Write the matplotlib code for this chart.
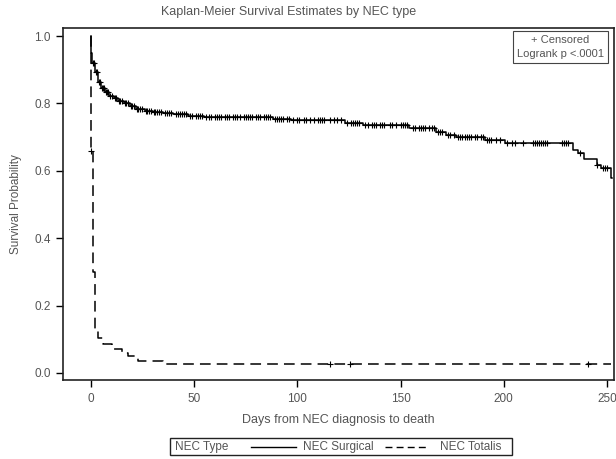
import numpy as np
import matplotlib
matplotlib.use('Agg')
import matplotlib.pyplot as plt
from matplotlib.lines import Line2D
from matplotlib.patches import Rectangle

plt.rcParams['font.family'] = ['Liberation Sans', 'DejaVu Sans']

# step curve: time of each event and survival after it
surg_t = [0, 0.2, 0.5, 2, 3.5, 5, 7, 9, 11, 13, 16, 19, 22, 26, 30, 35, 40, 47, 55,
          88, 97, 123, 132, 154, 167, 172, 177, 191, 200.5, 233.5, 236, 239, 245, 247, 252]
surg_s = [1.0, 0.95, 0.92, 0.893, 0.865, 0.845, 0.833, 0.823, 0.815, 0.808, 0.80, 0.792,
          0.785, 0.779, 0.775, 0.771, 0.768, 0.764, 0.760, 0.755, 0.750, 0.742, 0.736,
          0.727, 0.715, 0.706, 0.700, 0.691, 0.682, 0.662, 0.653, 0.635, 0.617, 0.608, 0.58]
surg_cens = [1, 1.5, 2.5, 3, 4, 4.5, 5.5, 6, 6.5, 7.5, 8, 8.5, 9.5, 10, 11.5, 12, 13.5, 14,
             15, 16.5, 17, 18, 19.5, 20, 21, 22.5, 23, 24, 25, 26.5, 27, 28, 29, 30.5, 31,
             32, 33, 34, 36, 37, 38, 39, 41, 42, 43, 44, 45, 46, 48, 49, 51, 52, 53, 54, 56,
             57, 58, 60, 61, 62, 63, 65, 66, 67, 69, 70, 71, 72, 74, 75, 76, 77, 78, 80, 81,
             82, 84, 85, 86, 87, 89, 90, 91, 92, 93, 95, 96, 98, 100, 101, 103, 104, 106,
             108, 110, 111, 112, 113, 116, 118, 119, 121, 124, 126, 127, 128, 129, 130, 133,
             134, 136, 137, 138, 140, 141, 142, 145, 146, 148, 150, 151, 152, 153, 156, 157,
             159, 160, 161, 162, 164, 165, 166, 168, 169, 170, 173, 174, 176, 178, 179, 180,
             181, 182, 183, 184, 186, 187, 189, 190, 192, 193, 194, 196, 198, 201.4, 203.8,
             205.4, 209.4, 214, 215, 216, 217, 218, 219, 220, 221, 228, 229, 230, 231, 237,
             245, 248, 249, 250]

tot_t = [0, 0.01, 1, 2, 3.5, 6, 10, 15, 18, 23, 35]
tot_s = [1.0, 0.66, 0.30, 0.128, 0.105, 0.085, 0.07, 0.06, 0.05, 0.035, 0.026]
tot_end = 252
tot_cens = [0.01, 116, 125.5, 241]

xticks = [0, 50, 100, 150, 200, 250]
yticks = [0.0, 0.2, 0.4, 0.6, 0.8, 1.0]

txt = '#555555'


def surv_at(t, s, x):
    idx = np.searchsorted(t, x, side='right') - 1
    return np.asarray(s)[idx]


fig = plt.figure(figsize=(6.16, 4.59), dpi=100)
ax = fig.add_axes([63 / 616, 1 - 380 / 459, 551 / 616, 352 / 459])

ax.step(surg_t + [surg_t[-1] + 0.5], surg_s + [surg_s[-1]], where='post', color='black', lw=1.1)
ax.step(tot_t + [tot_end], tot_s + [tot_s[-1]], where='post', color='black', lw=1.1,
        linestyle=(0, (7, 4)))

ax.plot(surg_cens, surv_at(surg_t, surg_s, surg_cens), '+', color='black', ms=5, mew=0.8)
ax.plot(tot_cens, surv_at(tot_t, tot_s, tot_cens), '+', color='black', ms=5, mew=0.8)

ax.set_xlim(-13.5, 253.4)
ax.set_ylim(-0.021, 1.024)
ax.set_xticks(xticks)
ax.set_xticklabels([str(v) for v in xticks])
ax.set_yticks(yticks)
ax.set_yticklabels(['%.1f' % v for v in yticks])
ax.tick_params(direction='out', length=5, width=1, colors='black', labelcolor=txt,
               labelsize=8.5, pad=4)
for sp in ax.spines.values():
    sp.set_color('#222222')
    sp.set_linewidth(1.2)

ax.set_xlabel('Days from NEC diagnosis to death', color=txt, fontsize=9, labelpad=7)
ax.set_ylabel('Survival Probability', color=txt, fontsize=8.5, labelpad=9)
fig.text(0.468, 1 - 12 / 459, 'Kaplan-Meier Survival Estimates by NEC type', color=txt,
         fontsize=9, ha='center', va='center')

ax.text(0.982, 0.98, '+ Censored\nLogrank p <.0001', transform=ax.transAxes, ha='right',
        va='top', multialignment='center', fontsize=8, color=txt, linespacing=1.45,
        bbox=dict(boxstyle='square,pad=0.35', fc='white', ec='#444444', lw=0.8))

# bottom legend box
fy = 1 - 447 / 459
fig.patches.append(Rectangle((170 / 616, 1 - 455 / 459), 342 / 616, 17 / 459,
                             transform=fig.transFigure, fill=False, ec='#222222', lw=1.0))
fig.text(175 / 616, fy, 'NEC Type', color=txt, fontsize=8.5, va='center')
fig.lines.append(Line2D([251 / 616, 296 / 616], [fy, fy], transform=fig.transFigure,
                        color='black', lw=1.0))
fig.text(303 / 616, fy, 'NEC Surgical', color=txt, fontsize=8.5, va='center')
fig.lines.append(Line2D([385 / 616, 428 / 616], [fy, fy], transform=fig.transFigure,
                        color='black', lw=1.0, linestyle=(0, (5, 3))))
fig.text(440 / 616, fy, 'NEC Totalis', color=txt, fontsize=8.5, va='center')

fig.savefig('out.png', dpi=100)
